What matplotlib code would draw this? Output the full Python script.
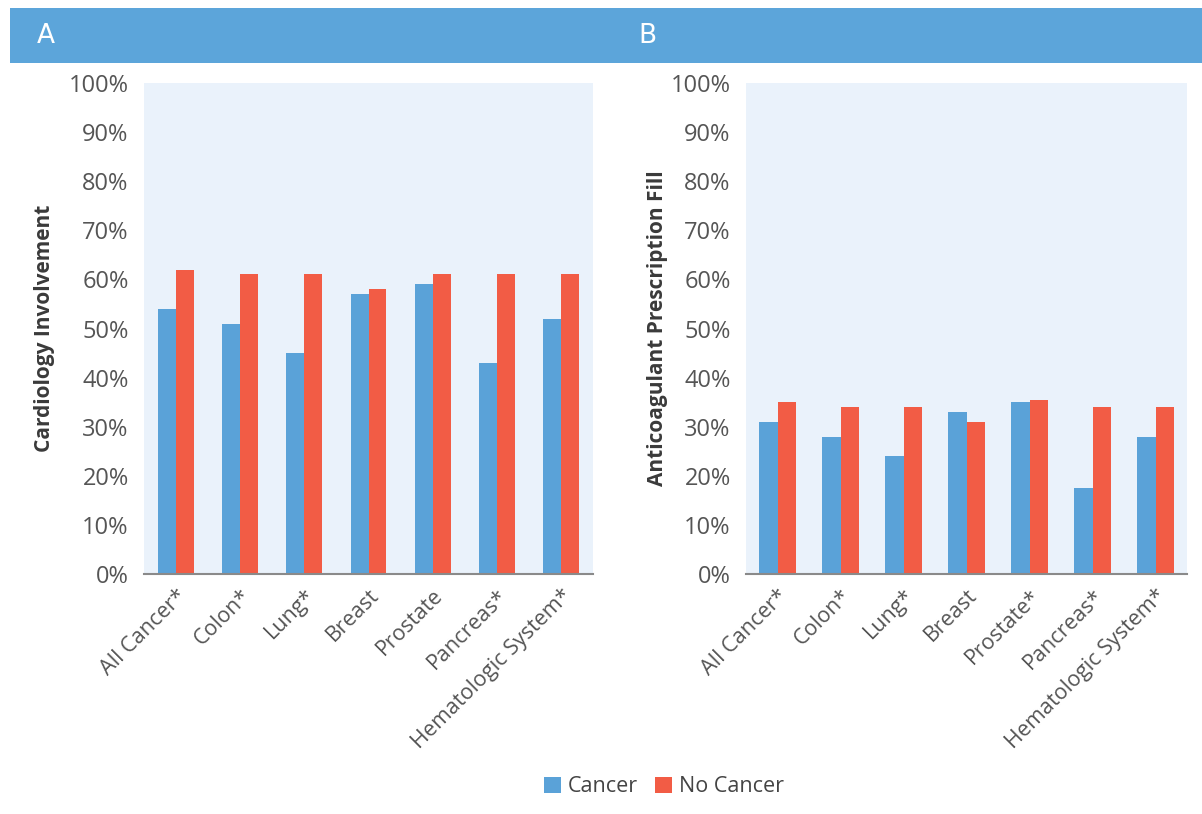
import numpy as np
import matplotlib.pyplot as plt
from matplotlib.patches import Rectangle

categories_a = ["All Cancer*", "Colon*", "Lung*", "Breast", "Prostate", "Pancreas*", "Hematologic System*"]
categories_b = ["All Cancer*", "Colon*", "Lung*", "Breast", "Prostate*", "Pancreas*", "Hematologic System*"]

cardio_cancer = [54, 51, 45, 57, 59, 43, 52]
cardio_no_cancer = [62, 61, 61, 58, 61, 61, 61]

anticoag_cancer = [31, 28, 24, 33, 35, 17.5, 28]
anticoag_no_cancer = [35, 34, 34, 31, 35.5, 34, 34]

y_ticks = list(range(0, 101, 10))

BLUE = "#5aa2d8"
RED = "#f25c45"
PANEL_BG = "#eaf2fb"
TEXT = "#555555"

plt.rcParams['font.family'] = ['Open Sans', 'DejaVu Sans']

fig = plt.figure(figsize=(12.02, 8.14), dpi=100)

# header band
fig.patches.append(Rectangle((10 / 1202, 1 - 63 / 814), 1 - 10 / 1202, 55 / 814,
                             transform=fig.transFigure, facecolor="#5ca5da",
                             edgecolor="none", zorder=0))
fig.text(37 / 1202, 1 - 36 / 814, "A", color="white", fontsize=19,
         family="Liberation Sans Narrow", va="center", ha="left")
fig.text(638 / 1202, 1 - 36 / 814, "B", color="white", fontsize=19,
         family="Liberation Sans Narrow", va="center", ha="left")


def draw_panel(rect, cats, cancer, no_cancer, ylabel, width, labelpad):
    ax = fig.add_axes(rect)
    x = np.arange(len(cats))
    ax.bar(x - width / 2, cancer, width, color=BLUE, label="Cancer", zorder=2)
    ax.bar(x + width / 2, no_cancer, width, color=RED, label="No Cancer", zorder=2)
    ax.set_facecolor(PANEL_BG)
    ax.set_xlim(-0.5, 6.5)
    ax.set_ylim(0, 100)
    ax.set_yticks(y_ticks)
    ax.set_yticklabels(["{}%".format(t) for t in y_ticks], fontsize=17, color=TEXT)
    ax.set_xticks(x)
    ax.set_xticklabels(cats, rotation=45, ha="right", rotation_mode="anchor",
                       fontsize=15.5, color=TEXT)
    ax.tick_params(axis="both", length=0)
    ax.tick_params(axis="y", pad=11)
    ax.tick_params(axis="x", pad=8)
    for s in ["top", "right", "left"]:
        ax.spines[s].set_visible(False)
    ax.spines["bottom"].set_color("#8a8a8a")
    ax.spines["bottom"].set_linewidth(1.5)
    ax.set_ylabel(ylabel, fontsize=15, fontweight="bold", color="#3a3a3a", labelpad=labelpad)
    return ax


ax_a = draw_panel([144 / 1202, 1 - 574 / 814, 449 / 1202, 491 / 814],
                  categories_a, cardio_cancer, cardio_no_cancer,
                  "Cardiology Involvement", 0.28, 10)
ax_b = draw_panel([746 / 1202, 1 - 574 / 814, 441 / 1202, 491 / 814],
                  categories_b, anticoag_cancer, anticoag_no_cancer,
                  "Anticoagulant Prescription Fill", 0.3, 2)

handles, labels = ax_a.get_legend_handles_labels()
fig.legend(handles, labels, loc="center", bbox_to_anchor=(664 / 1202, 1 - 787 / 814),
           ncol=2, frameon=False, fontsize=15.5, handlelength=0.8, handleheight=0.8,
           handletextpad=0.3, columnspacing=0.8, labelcolor="#444444")

fig.savefig("out.png", dpi=100)
